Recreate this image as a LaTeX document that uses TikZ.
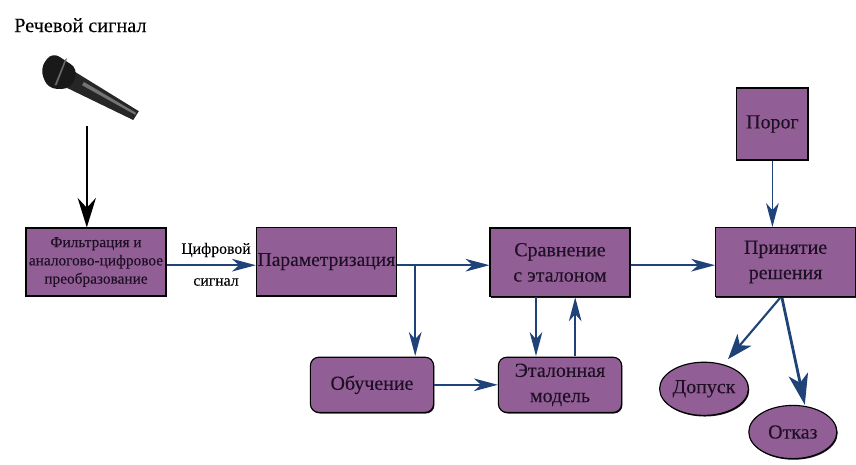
\documentclass[tikz,border=0pt]{standalone}
\usepackage{fontspec}
\setmainfont{Liberation Serif}[FakeBold=0.12]
\usetikzlibrary{arrows.meta,shapes.geometric,shadows}

\definecolor{boxfill}{HTML}{915F95}
\definecolor{boxtext}{HTML}{1E0F24}
\definecolor{linkblue}{HTML}{1F4279}

\tikzset{
    block/.style={draw=black, line width=0.8pt, fill=boxfill, text=boxtext, align=center,
        inner sep=0pt, font=\fontsize{14.2}{18}\selectfont,
        drop shadow={shadow xshift=0.6pt, shadow yshift=-0.8pt, opacity=0.9, fill=black}},
    squarebox/.style={block, rectangle, minimum width=3.5cm, minimum height=1.72cm},
    roundbox/.style={block, rectangle, rounded corners=6pt, minimum width=3.08cm, minimum height=1.38cm},
    ovalbox/.style={block, ellipse, minimum width=2.2cm, minimum height=1.33cm},
    link/.style={draw=linkblue, line width=1.2pt, -{Stealth[inset=5pt, length=17pt, width=9pt]}},
    plain/.style={font=\fontsize{11.2}{14}\selectfont, inner sep=0pt}
}

\begin{document}
\begin{tikzpicture}
    \useasboundingbox (0, 0) rectangle (21.4, -11.6);

    \node[plain, font=\fontsize{14.4}{16}\selectfont, anchor=west] (title) at (0.35, -0.63) {Речевой сигнал};

    % microphone
    \fill[black!85] (1.88, -1.8) -- (3.47, -2.78) -- (3.33, -3.0) -- (1.68, -2.2) -- cycle;
    \fill[black!55] (2.1, -2.05) -- (3.4, -2.82) -- (3.38, -2.87) -- (2.05, -2.13) -- cycle;
    \fill[black!90, rounded corners=6pt] (1.0, -1.72) -- (1.3, -1.3) -- (1.95, -1.72) -- (1.78, -2.22) -- (1.2, -2.22) -- cycle;
    \fill[black!60] (1.62, -1.5) -- (1.68, -1.45) -- (1.42, -2.12) -- (1.36, -2.14) -- cycle;
    \coordinate (micend) at (2.17, -3.15);

    \node[squarebox, minimum height=1.7cm, font=\fontsize{10.9}{13}\selectfont] (filter) at (2.4, -6.55)
        {Фильтрация и\\аналогово-цифровое\\преобразование};
    \node[squarebox, font=\fontsize{13.9}{18}\selectfont] (param) at (8.16, -6.54) {Параметризация};
    \node[squarebox] (compare) at (14, -6.56) {Сравнение\\с эталоном};
    \node[squarebox] (decision) at (19.64, -6.55) {Принятие\\решения};
    \node[squarebox, minimum width=1.78cm, minimum height=1.8cm] (porog) at (19.31, -3.1) {Порог};

    \node[roundbox] (train) at (9.3, -9.62) {Обучение};
    \node[roundbox] (model) at (14, -9.62) {Эталонная\\модель};

    \node[ovalbox] (admit) at (17.6, -9.72) {Допуск};
    \node[ovalbox] (reject) at (19.82, -10.8) {Отказ};

    \node[plain] (digit0) at (5.4, -6.25) {Цифровой};
    \node[plain] (digit1) at (5.4, -7.05) {сигнал};

    \coordinate (branch) at (10.38, -6.63);
    \coordinate (branchend) at (10.38, -8.9);
    \coordinate (modelin) at (13.4, -8.9);
    \coordinate (modelout) at (14.38, -8.9);

    \draw[line width=1.3pt, -{Stealth[inset=7pt, length=21pt, width=13pt]}] (micend) -- (micend |- filter.north);
    \draw[link] (filter.east |- 0, -6.63) -- (param.west |- 0, -6.63);
    \draw[link] (param.east |- branch) -- (compare.west |- branch);
    \draw[link] (branch) -- (branchend);
    \draw[link] (compare.east |- branch) -- (decision.west |- branch);
    \draw[link] (porog.south) -- (porog.south |- decision.north);
    \draw[link] (compare.south -| modelin) -- (modelin);
    \draw[link] (modelout) -- (compare.south -| modelout);
    \draw[link] (train.east) -- (model.west);
    \draw[link, line width=1.5pt, -{Stealth[inset=5pt, length=18pt, width=13pt]}] (19.5, -7.45) -- (18.2, -8.98);
    \draw[link, line width=2pt, -{Stealth[inset=6pt, length=22pt, width=14pt]}] (19.55, -7.45) -- (20.12, -10.12);
\end{tikzpicture}
\end{document}
